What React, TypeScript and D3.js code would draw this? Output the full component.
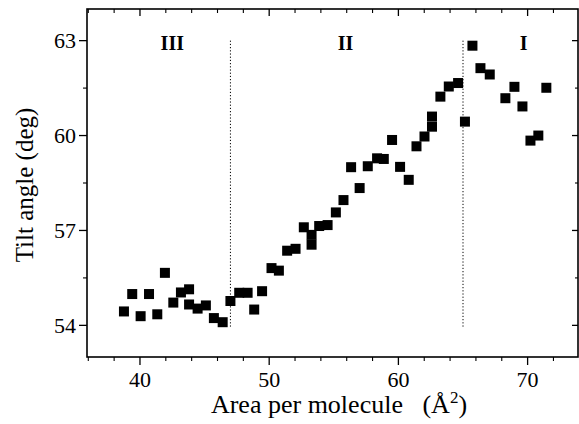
import React from "react";
import * as d3 from "d3";

// area per molecule (Å^2) and tilt angle (deg)
const area = [
  38.76, 39.4, 40.05, 40.7, 41.34, 41.93, 42.58, 43.17, 43.8, 43.8, 44.46, 45.1, 45.72, 46.4,
  47.0, 47.68, 48.33, 48.84, 49.45, 50.18, 50.75, 51.39, 52.04, 52.68, 53.28, 53.28, 53.87,
  54.52, 55.16, 55.75, 56.34, 57.0, 57.63, 58.35, 58.87, 59.51, 60.13, 60.8, 61.4, 62.02,
  62.6, 62.6, 63.25, 63.9, 64.62, 65.15, 65.73, 66.35, 67.07, 68.28, 68.98, 69.6, 70.22,
  70.83, 71.45,
];
const tilt = [
  54.44, 54.99, 54.29, 54.99, 54.35, 55.66, 54.72, 55.04, 55.14, 54.66, 54.53, 54.63, 54.23,
  54.1, 54.77, 55.03, 55.03, 54.5, 55.08, 55.81, 55.73, 56.36, 56.42, 57.1, 56.86, 56.55,
  57.14, 57.17, 57.57, 57.96, 59.0, 58.34, 59.03, 59.28, 59.26, 59.86, 59.01, 58.6, 59.66,
  59.97, 60.28, 60.6, 61.23, 61.55, 61.66, 60.44, 62.84, 62.13, 61.93, 61.18, 61.54, 60.92,
  59.84, 60.0, 61.51,
];
const xTicks = [40, 50, 60, 70];
const yTicks = [54, 57, 60, 63];
const phaseBounds = [47, 65];
const phaseLabels = ["III", "II", "I"];
const phaseLabelX = [42.5, 55.9, 69.7];

export default function App() {
  const width = 579;
  const height = 424;
  const m = { left: 87, right: 578, top: 9, bottom: 357 };

  const x = d3.scaleLinear().domain([35.9, 73.9]).range([m.left, m.right]);
  const y = d3.scaleLinear().domain([53, 64]).range([m.bottom, m.top]);

  const xMinor = d3.range(36, 74, 2).filter((v) => !xTicks.includes(v));
  const yMinor = d3.range(52.5, 64, 1.5).filter((v) => v > 53 && v < 64 && !yTicks.includes(v));

  const font = "Liberation Serif";
  const sq = 10;

  return (
    <svg width={width} height={height} style={{ position: "absolute", left: 0, top: 0 }}>
      <rect width={width} height={height} fill="#fff" />

      {/* frame */}
      <rect x={m.left} y={m.top} width={m.right - m.left} height={m.bottom - m.top}
        fill="none" stroke="#000" strokeWidth={1.6} />

      {/* bottom ticks (outward) and top ticks (inward) */}
      {xTicks.map((t) => (
        <g key={"xt" + t}>
          <line x1={x(t)} x2={x(t)} y1={m.bottom} y2={m.bottom + 8} stroke="#000" strokeWidth={1.3} />
          <line x1={x(t)} x2={x(t)} y1={m.top} y2={m.top + 7} stroke="#000" strokeWidth={1.3} />
          <text x={x(t)} y={387} textAnchor="middle" fontFamily={font} fontSize={22}>{t}</text>
        </g>
      ))}
      {xMinor.map((t) => (
        <g key={"xm" + t}>
          <line x1={x(t)} x2={x(t)} y1={m.bottom} y2={m.bottom + 4} stroke="#000" strokeWidth={1.1} />
          <line x1={x(t)} x2={x(t)} y1={m.top} y2={m.top + 4} stroke="#000" strokeWidth={1.1} />
        </g>
      ))}

      {/* left ticks (outward) and right ticks (inward) */}
      {yTicks.map((t) => (
        <g key={"yt" + t}>
          <line x1={m.left - 8} x2={m.left} y1={y(t)} y2={y(t)} stroke="#000" strokeWidth={1.3} />
          <line x1={m.right - 6} x2={m.right} y1={y(t)} y2={y(t)} stroke="#000" strokeWidth={1.3} />
          <text x={m.left - 11} y={y(t)} dy="0.35em" textAnchor="end" fontFamily={font} fontSize={22}>{t}</text>
        </g>
      ))}
      {yMinor.map((t) => (
        <g key={"ym" + t}>
          <line x1={m.left - 4} x2={m.left} y1={y(t)} y2={y(t)} stroke="#000" strokeWidth={1.1} />
          <line x1={m.right - 3} x2={m.right} y1={y(t)} y2={y(t)} stroke="#000" strokeWidth={1.1} />
        </g>
      ))}

      {/* phase boundaries */}
      {phaseBounds.map((b) => (
        <line key={"pb" + b} x1={x(b)} x2={x(b)} y1={y(63)} y2={y(53.9)}
          stroke="#000" strokeWidth={1} strokeDasharray="1.2 2" />
      ))}
      {phaseLabels.map((l, i) => (
        <text key={l} x={x(phaseLabelX[i])} y={50} textAnchor="middle" fontFamily={font}
          fontSize={20} fontWeight="bold">{l}</text>
      ))}

      {/* data */}
      {area.map((a, i) => (
        <rect key={"p" + i} x={x(a) - sq / 2} y={y(tilt[i]) - sq / 2} width={sq} height={sq} fill="#000" />
      ))}

      {/* axis titles */}
      <text x={339} y={413} textAnchor="middle" fontFamily={font} fontSize={26} style={{ whiteSpace: "pre" }}>
        {"Area per molecule   (Å"}<tspan dy={-10} fontSize={17}>2</tspan><tspan dy={10}>)</tspan>
      </text>
      <text transform={`translate(33,${185}) rotate(-90)`} textAnchor="middle" fontFamily={font} fontSize={25}>
        Tilt angle (deg)
      </text>
    </svg>
  );
}
